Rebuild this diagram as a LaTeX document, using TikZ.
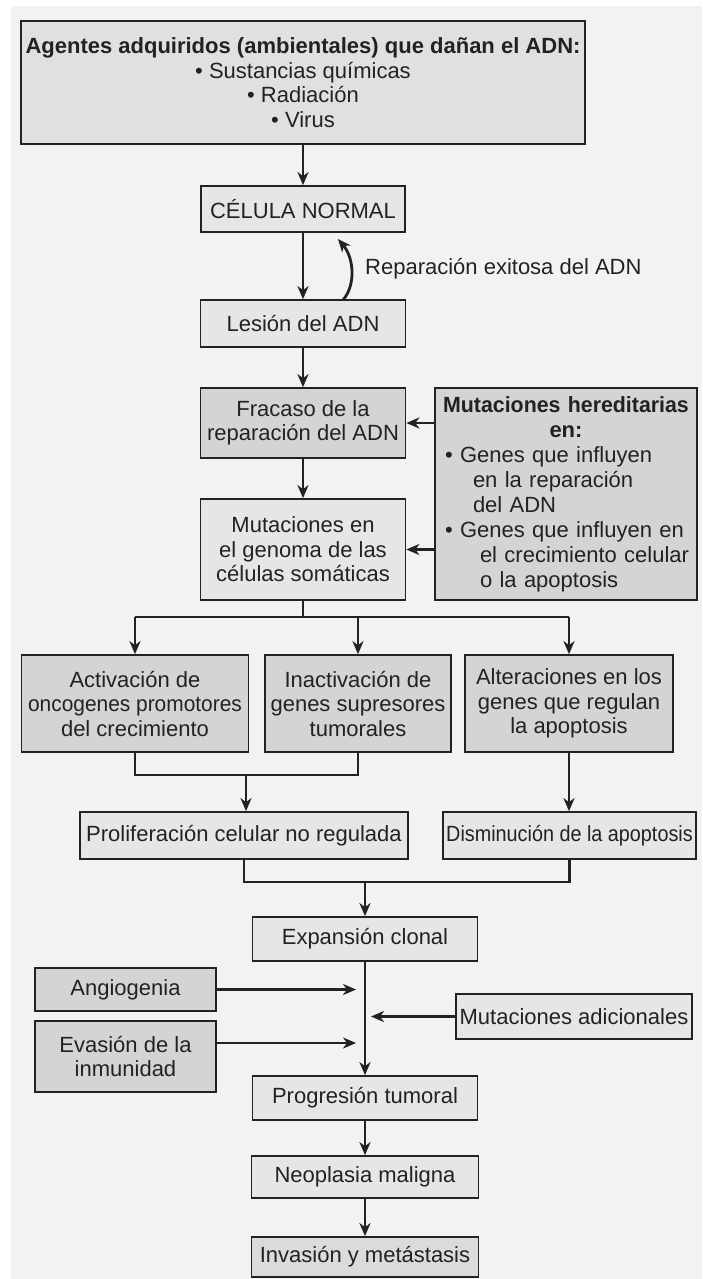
\documentclass[tikz,border=0pt]{standalone}
\usepackage{fontspec}
\setmainfont{Liberation Sans}
\newfontfamily\narrowA[FakeStretch=0.95]{Liberation Sans}
\newfontfamily\narrowB[FakeStretch=0.9]{Liberation Sans}
\newfontfamily\narrowC[FakeStretch=0.97]{Liberation Sans}
\usetikzlibrary{arrows.meta,calc}
\definecolor{bg}{HTML}{F2F2F2}
\definecolor{lightbox}{HTML}{E6E6E6}
\definecolor{midbox}{HTML}{E0E0E0}
\definecolor{darkbox}{HTML}{D4D4D4}
\definecolor{inkc}{HTML}{222222}
\tikzset{
  box/.style={draw=inkc, line width=1.7pt, inner sep=0pt, align=center,
    text=inkc, font=\fontsize{22}{24.5}\selectfont},
  lbox/.style={box, fill=lightbox},
  dbox/.style={box, fill=darkbox},
  conn/.style={draw=inkc, line width=2.8pt},
  arr/.style={conn, -{Stealth[length=13pt,width=11pt,inset=4pt]}},
  lbl/.style={text=inkc, inner sep=0pt, font=\fontsize{22}{24.5}\selectfont}
}
\begin{document}
\begin{tikzpicture}[x=1pt,y=-1pt]
\useasboundingbox (0,0) rectangle (702,1279);
\fill[white] (0,0) rectangle (702,1279);
\fill[bg] (11,6) rectangle (702,1279);

% top part
\node[box, fill=midbox, minimum width=564pt, minimum height=123pt] (agt) at (303,82.5)
  {\bfseries Agentes adquiridos (ambientales) que dañan el ADN:\\ • Sustancias químicas\\ • Radiación\\ • Virus};
\node[lbox, minimum width=204pt, minimum height=46pt] (cel) at (303,209) {CÉLULA NORMAL};
\node[lbox, minimum width=205pt, minimum height=47pt] (les) at (303,323.5) {Lesión del ADN};
\node[dbox, minimum width=205pt, minimum height=70pt] (fra) at (303,423) {Fracaso de la\\ reparación del ADN};
\node[lbox, minimum width=205pt, minimum height=101pt] (mut) at (303,549.5) {Mutaciones en\\ el genoma de las\\ células somáticas};
\node[dbox, minimum width=262pt, minimum height=212pt, text width=250pt, align=left,
  font=\fontsize{22}{25}\selectfont] (her) at (566,494)
  {\makebox[250pt]{\narrowC\bfseries Mutaciones hereditarias}\\
   \makebox[250pt]{\bfseries en:}\\
   \hspace*{4pt}• Genes que influyen\\
   \hspace*{32pt}en la reparación\\
   \hspace*{32pt}del ADN\\
   \hspace*{4pt}• Genes que influyen en\\
   \hspace*{39pt}el crecimiento celular\\
   \hspace*{39pt}o la apoptosis};

\draw[arr] (agt) -- (cel);
\draw[arr] (cel) -- (les);
\coordinate (rs) at (343,300);
\coordinate (re) at (338,239);
\draw[arr] (rs) .. controls (356,285) and (354,258) .. (re);
\node[lbl, anchor=west] (rep) at (365,269) {Reparación exitosa del ADN};
\draw[arr] (les) -- (fra);
\draw[arr] (fra) -- (mut);
\draw[arr] (her.west |- fra.east) -- (fra.east);
\draw[arr] (her.west |- mut.east) -- (mut.east);

% three mechanisms
\node[dbox, minimum width=227pt, minimum height=97pt] (act) at (135,703.5)
  {Activación de\\ {\narrowA oncogenes promotores}\\ del crecimiento};
\node[dbox, minimum width=186pt, minimum height=97pt] (ina) at (358,703.5)
  {Inactivación de\\ genes supresores\\ tumorales};
\node[dbox, minimum width=207.5pt, minimum height=97pt] (alt) at (569,703.5)
  {Alteraciones en los\\ genes que regulan\\ la apoptosis};
\coordinate (br) at (303,617);
\draw[conn] (mut.south) -- (br);
\draw[conn] (br -| act) -- (br -| alt);
\draw[arr] (br -| act) -- (act.north);
\draw[arr] (br -| ina) -- (ina.north);
\draw[arr] (br -| alt) -- (alt.north);

\node[lbox, minimum width=327.5pt, minimum height=47pt] (pro) at (244,835.5) {Proliferación celular no regulada};
\node[lbox, minimum width=253pt, minimum height=47pt] (dis) at (569.5,835.5) {{\narrowB Disminución de la apoptosis}};
\coordinate (m1) at (246,775);
\draw[conn] (act.south) |- (m1) -| (ina.south);
\draw[arr] (m1) -- (m1 |- pro.north);
\draw[arr] (alt.south) -- (alt.south |- dis.north);

% lower part
\node[lbox, minimum width=225pt, minimum height=44pt] (exp) at (365,939) {Expansión clonal};
\coordinate (m2) at (365,882);
\draw[conn] (pro.south) |- (m2) -| (dis.south);
\draw[arr] (m2) -- (exp.north);

\node[dbox, minimum width=181pt, minimum height=43pt] (ang) at (125.5,989.5) {Angiogenia};
\node[dbox, minimum width=181pt, minimum height=71pt] (eva) at (125.5,1056.5) {Evasión de la\\ inmunidad};
\node[lbox, minimum width=236.5pt, minimum height=45pt] (mad) at (574,1016.5) {Mutaciones adicionales};
\node[lbox, minimum width=225pt, minimum height=44pt] (prg) at (365,1098) {Progresión tumoral};
\node[lbox, minimum width=227pt, minimum height=42pt] (neo) at (365,1177) {Neoplasia maligna};
\node[box, fill=darkbox!60!lightbox, minimum width=227pt, minimum height=40pt] (inv) at (365,1257) {Invasión y metástasis};

\coordinate (tl) at (356,0);
\coordinate (tr) at (371,0);
\draw[arr] (exp.south) -- (prg.north);
\draw[arr] (ang.east) -- (ang.east -| tl);
\draw[arr] (eva.east |- 0,1043) -- (tl |- 0,1043);
\draw[arr] (mad.west) -- (mad.west -| tr);
\draw[arr] (prg) -- (neo);
\draw[arr] (neo) -- (inv);
\end{tikzpicture}
\end{document}
